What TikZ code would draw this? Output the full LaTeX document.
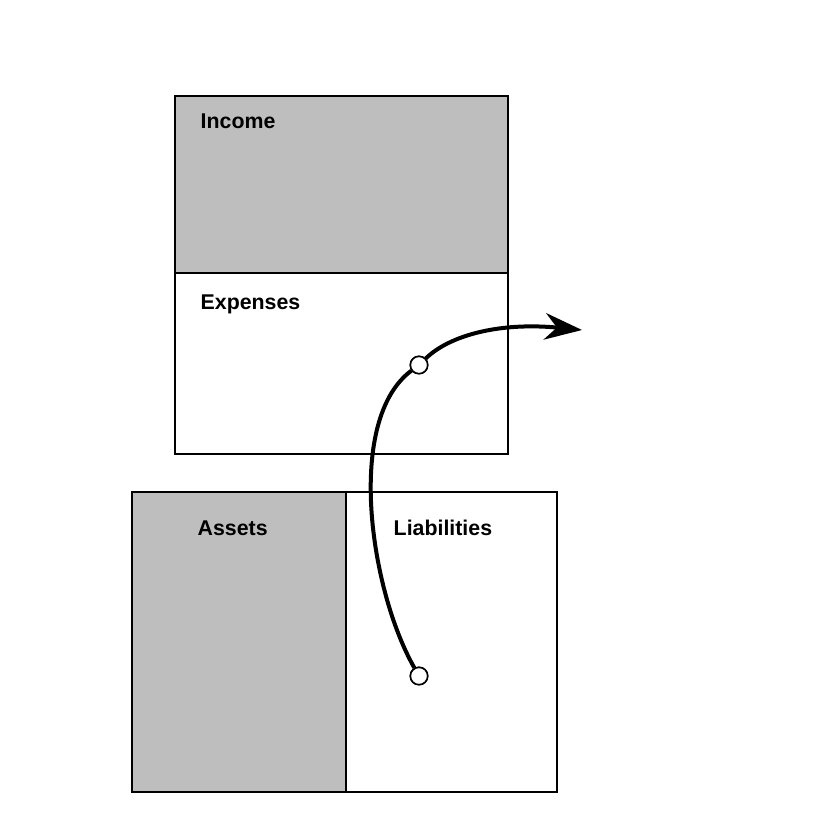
\documentclass[tikz,border=0pt]{standalone}
\usepackage{fontspec}
\setmainfont{Liberation Sans}
\usetikzlibrary{arrows.meta}
\definecolor{boxgray}{RGB}{190,190,190}
\tikzset{
  lbl/.style={anchor=west,font=\bfseries\fontsize{16}{18}\selectfont},
  dot/.style={circle,draw,fill=white,line width=1.2pt,inner sep=0pt,minimum size=13pt}
}
\begin{document}
\begin{tikzpicture}[x=0.75pt,y=0.75pt,yscale=-1,xscale=1]
  \useasboundingbox (0,0) rectangle (831,831);
  % upper box
  \draw [fill=boxgray,line width=2pt] (175,96) rectangle (508,273);
  \draw [line width=2pt] (175,273) rectangle (508,454);
  % lower box
  \draw [fill=boxgray,line width=2pt] (132,492) rectangle (346,792);
  \draw [line width=2pt] (346,492) rectangle (557,792);
  \node [lbl] (income)   at (196,121) {Income};
  \node [lbl] (expenses) at (196,304) {Expenses};
  \node [lbl] (assets)   at (193,528) {Assets};
  \node [lbl] (liab)     at (389,528) {Liabilities};
  % transfer arrow
  \coordinate (tip) at (582,330);
  \node [dot] (from) at (419,676) {};
  \node [dot] (to)   at (419,365) {};
  \draw [line width=3pt] (from) .. controls (370,590) and (345,420) .. (to);
  \draw [line width=3pt,-{Stealth[length=28pt,width=20pt]}] (to) .. controls (450,335) and (500,322) .. (tip);
  \node [dot] at (from) {};
  \node [dot] at (to) {};
\end{tikzpicture}
\end{document}
